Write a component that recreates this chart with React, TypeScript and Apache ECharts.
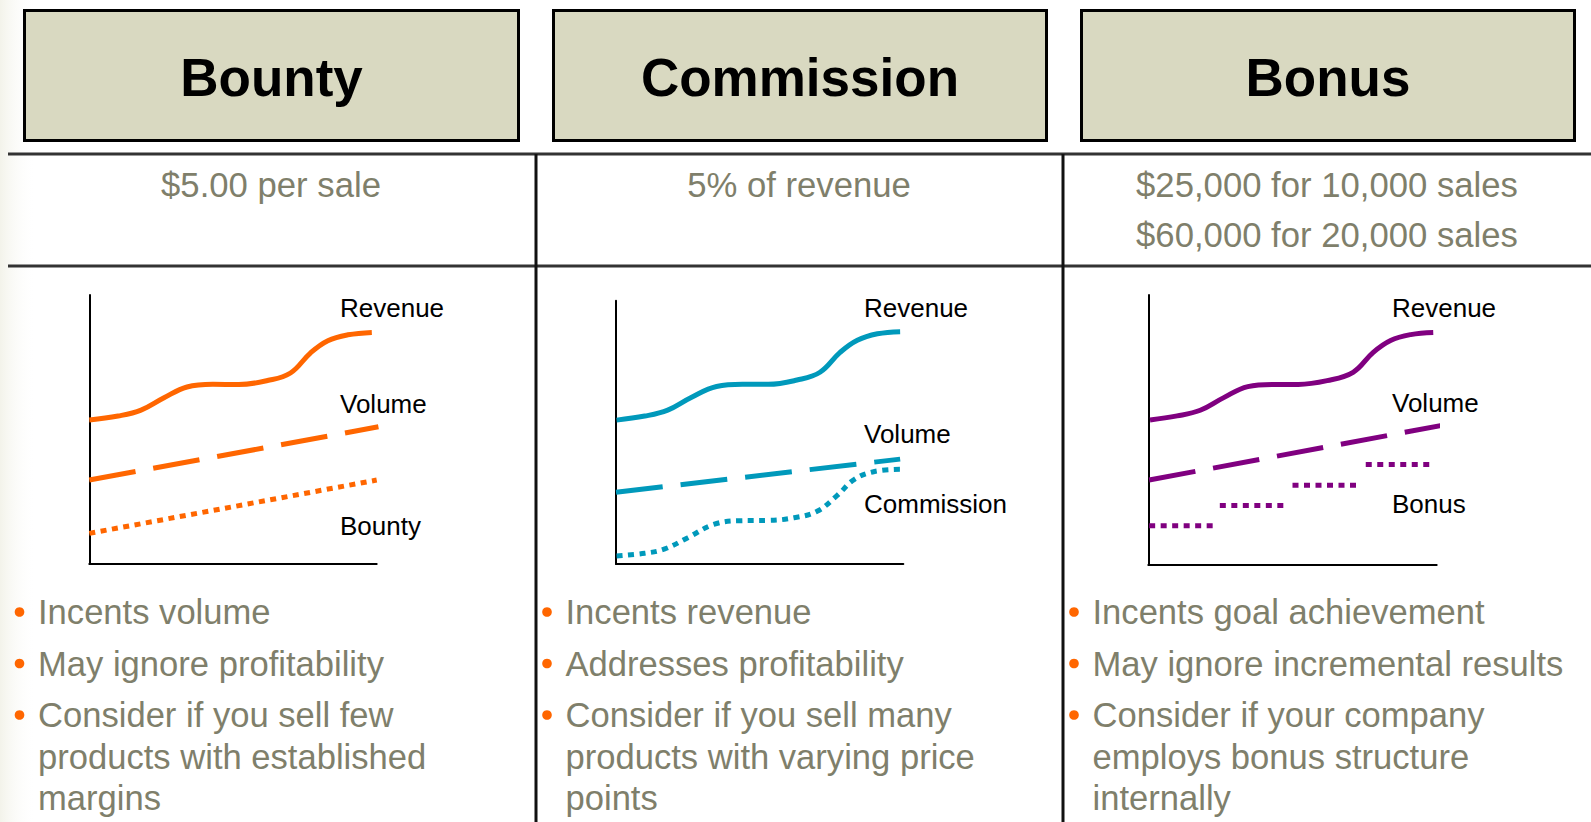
import React, { useEffect, useRef } from 'react';
import * as echarts from 'echarts';

const FONT = '"Liberation Sans", Arial, Helvetica, sans-serif';

// ---- Data ----
const headers = ['Bounty', 'Commission', 'Bonus'];
const rates = [
  ['$5.00 per sale'],
  ['5% of revenue'],
  ['$25,000 for 10,000 sales', '$60,000 for 20,000 sales'],
];
const bulletsBounty = [
  ['Incents volume'],
  ['May ignore profitability'],
  ['Consider if you sell few', 'products with established', 'margins'],
];
const bulletsCommission = [
  ['Incents revenue'],
  ['Addresses profitability'],
  ['Consider if you sell many', 'products with varying price', 'points'],
];
const bulletsBonus = [
  ['Incents goal achievement'],
  ['May ignore incremental results'],
  ['Consider if your company', 'employs bonus structure', 'internally'],
];
const curveLabels = [
  ['Revenue', 'Volume', 'Bounty'],
  ['Revenue', 'Volume', 'Commission'],
  ['Revenue', 'Volume', 'Bonus'],
];

const bountyRevenue = [
  [0, 53.5], [10, 55], [18, 57.2], [26, 61.8], [34, 65.8], [43, 66.8], [52, 66.7],
  [62, 68.2], [70, 71], [77, 78.5], [83, 83], [90, 85.2], [98.3, 86.1],
];
const bountyVolume = [[0, 31.2], [100.6, 51]];
const bountyPay = [[0, 11.4], [100, 31.2]];

const commissionRevenue = [
  [0.2, 53.5], [10, 55], [18, 57.2], [26, 61.8], [35, 66], [44, 66.8], [53, 66.8],
  [63, 68.4], [71, 71.3], [78, 78.7], [84, 83.2], [91, 85.6], [98.9, 86.4],
];
const commissionVolume = [[0, 26.7], [98.9, 39]];
const commissionPay = [
  [0.2, 3], [10, 4], [17, 5.6], [25, 9.8], [34, 14.7], [43, 16.1], [53, 16.2],
  [62, 17.2], [70, 19.6], [77, 25.5], [83, 31.5], [90, 34.4], [98.9, 35.2],
];

const bonusRevenue = [
  [0.6, 53.6], [10, 55.1], [18, 57.2], [26, 61.8], [34.5, 66], [43, 66.8], [52, 66.8],
  [62, 68.2], [71, 71.3], [78, 78.7], [84, 83.1], [91, 85.3], [98.8, 86.1],
];
const bonusVolume = [[0.3, 31.3], [101.4, 51.5]];
const bonusStep1 = [[0.3, 14.3], [22.7, 14.3]];
const bonusStep2 = [[24.8, 21.8], [47.6, 21.8]];
const bonusStep3 = [[50, 29.4], [72.9, 29.4]];
const bonusStep4 = [[75.4, 37.1], [98.1, 37.1]];

const colors = ['#FF6600', '#0099BB', '#800080'];

export default function App() {
  const ref = useRef<HTMLDivElement>(null);

  useEffect(() => {
    if (!ref.current) return;
    const chart = echarts.init(ref.current, undefined, { renderer: 'svg' });

    const grids = [
      { left: 89.3, top: 295, width: 287.4, height: 269, ymax: 100 },
      { left: 616, top: 300.7, width: 287.3, height: 263.3, ymax: 97.9 },
      { left: 1148.3, top: 295, width: 288.4, height: 269.3, ymax: 100 },
    ];

    const axisLine = { show: true, onZero: false, lineStyle: { color: '#000', width: 2 } };
    const xAxis = grids.map((g, i) => ({
      type: 'value', gridIndex: i, min: 0, max: 100,
      axisLine, axisTick: { show: false }, axisLabel: { show: false }, splitLine: { show: false },
    }));
    const yAxis = grids.map((g, i) => ({
      type: 'value', gridIndex: i, min: 0, max: g.ymax,
      axisLine, axisTick: { show: false }, axisLabel: { show: false }, splitLine: { show: false },
    }));

    const mk = (i: number, data: number[][], kind: 'solid' | 'dash' | 'dot', smooth = false) => ({
      type: 'line',
      xAxisIndex: i,
      yAxisIndex: i,
      data,
      smooth: smooth ? 0.4 : false,
      symbol: 'none',
      showSymbol: false,
      clip: false,
      silent: true,
      lineStyle: {
        color: colors[i],
        width: 5,
        cap: 'butt',
        type: kind === 'solid' ? 'solid' : kind === 'dash' ? [47, 18] : [6, 5.5],
      },
    });

    const series = [
      mk(0, bountyRevenue, 'solid', true),
      mk(0, bountyVolume, 'dash'),
      mk(0, bountyPay, 'dot'),
      mk(1, commissionRevenue, 'solid', true),
      mk(1, commissionVolume, 'dash'),
      mk(1, commissionPay, 'dot', true),
      mk(2, bonusRevenue, 'solid', true),
      mk(2, bonusVolume, 'dash'),
      mk(2, bonusStep1, 'dot'),
      mk(2, bonusStep2, 'dot'),
      mk(2, bonusStep3, 'dot'),
      mk(2, bonusStep4, 'dot'),
    ];

    const graphic: any[] = [];
    graphic.push({
      type: 'rect', z: -10, silent: true,
      shape: { x: 0, y: 0, width: 36, height: 822 },
      style: {
        fill: new echarts.graphic.LinearGradient(0, 0, 1, 0, [
          { offset: 0, color: '#F3F3EA' },
          { offset: 1, color: 'rgba(255,255,255,0)' },
        ]),
      },
    });

    const boxes = [
      { x: 24.5, w: 494, cx: 271.5 },
      { x: 553.5, w: 493, cx: 800 },
      { x: 1081.5, w: 493, cx: 1328 },
    ];
    boxes.forEach((b, i) => {
      graphic.push({
        type: 'rect', silent: true,
        shape: { x: b.x, y: 10.5, width: b.w, height: 130 },
        style: { fill: '#D9D9C1', stroke: '#000', lineWidth: 3 },
      });
      graphic.push({
        type: 'text', silent: true, x: b.cx, y: 77.5,
        style: {
          text: headers[i], fontFamily: FONT, fontSize: 53, fontWeight: 'bold',
          fill: '#000', align: 'center', verticalAlign: 'middle',
        },
      });
    });

    [154, 266].forEach((y) => {
      graphic.push({
        type: 'line', silent: true,
        shape: { x1: 8, y1: y, x2: 1591, y2: y },
        style: { stroke: '#333', lineWidth: 3 },
      });
    });
    [536, 1063].forEach((x) => {
      graphic.push({
        type: 'line', silent: true,
        shape: { x1: x, y1: 154, x2: x, y2: 822 },
        style: { stroke: '#111', lineWidth: 3 },
      });
    });

    const rateX = [271, 799, 1327];
    rates.forEach((lines, i) => {
      lines.forEach((t, j) => {
        graphic.push({
          type: 'text', silent: true, x: rateX[i], y: 185 + j * 49.5,
          style: {
            text: t, fontFamily: FONT, fontSize: 34.7, fill: '#7F7F6B',
            align: 'center', verticalAlign: 'middle',
          },
        });
      });
    });

    const labelPos = [
      { x: 340, ys: [308.3, 404.4, 526] },
      { x: 864, ys: [308.3, 434.4, 504.4] },
      { x: 1392, ys: [308.3, 402.8, 504.4] },
    ];
    curveLabels.forEach((labels, i) => {
      labels.forEach((t, j) => {
        graphic.push({
          type: 'text', silent: true, x: labelPos[i].x, y: labelPos[i].ys[j],
          style: {
            text: t, fontFamily: FONT, fontSize: 26, fill: '#000',
            align: 'left', verticalAlign: 'middle',
          },
        });
      });
    });

    const bulletCols = [
      { dot: 19.5, text: 38, items: bulletsBounty },
      { dot: 547, text: 565.5, items: bulletsCommission },
      { dot: 1074, text: 1092.5, items: bulletsBonus },
    ];
    const itemY = [612, 663.5, 715];
    const wrapGap = 41.7;
    bulletCols.forEach((col) => {
      col.items.forEach((lines, k) => {
        graphic.push({
          type: 'circle', silent: true,
          shape: { cx: col.dot, cy: itemY[k], r: 4.8 },
          style: { fill: '#FF6600' },
        });
        lines.forEach((t, j) => {
          graphic.push({
            type: 'text', silent: true, x: col.text, y: itemY[k] + j * wrapGap,
            style: {
              text: t, fontFamily: FONT, fontSize: 34.6, fill: '#7F7F6B',
              align: 'left', verticalAlign: 'middle',
            },
          });
        });
      });
    });

    chart.setOption({
      animation: false,
      backgroundColor: '#FFFFFF',
      grid: grids.map((g) => ({ left: g.left, top: g.top, width: g.width, height: g.height, containLabel: false })),
      xAxis,
      yAxis,
      series,
      graphic,
    });

    return () => chart.dispose();
  }, []);

  return (
    <div
      ref={ref}
      style={{ position: 'absolute', left: 0, top: 0, width: 1591, height: 822 }}
    />
  );
}
